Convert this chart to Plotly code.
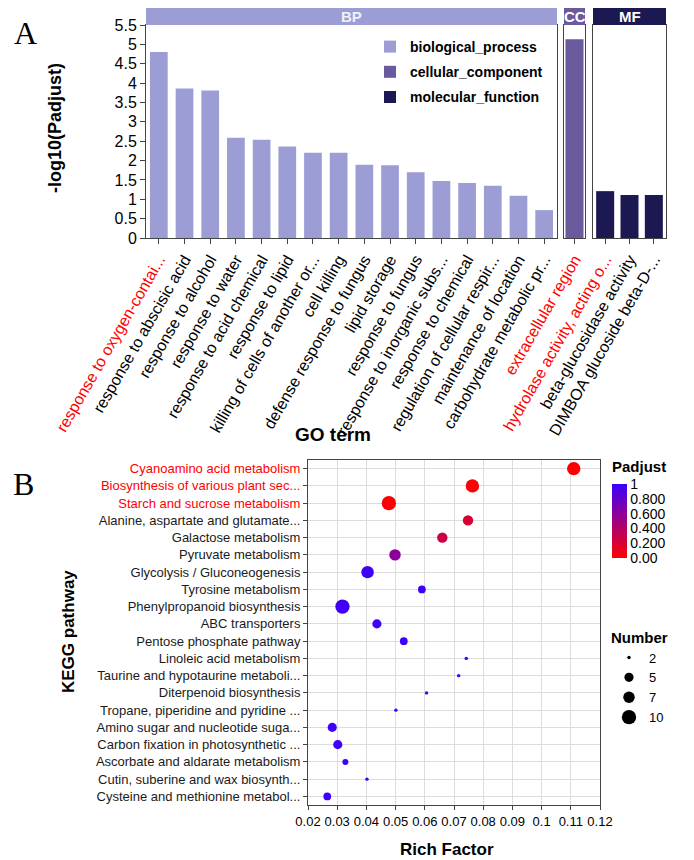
import plotly.graph_objects as go
import math

# page body has an 8px margin; the figure is sized to fit the 694x860 window
OFF = 8
W, H = 694 - OFF, 860 - OFF
FONT = "Liberation Sans, Arial, sans-serif"

# ---------------- GO data (panel A) ----------------
bp_terms = ["response to oxygen-contai...", "response to abscisic acid", "response to alcohol",
            "response to water", "response to acid chemical", "response to lipid",
            "killing of cells of another or...", "cell killing", "defense response to fungus",
            "lipid storage", "response to fungus", "response to inorganic subs...",
            "response to chemical", "regulation of cellular respir...", "maintenance of location",
            "carbohydrate metabolic pr..."]
bp_vals = [4.80, 3.86, 3.81, 2.59, 2.54, 2.36, 2.20, 2.20, 1.89, 1.88, 1.70, 1.47, 1.42, 1.35, 1.09, 0.72]
cc_terms = ["extracellular region"]
cc_vals = [5.13]
mf_terms = ["hydrolase activity, acting o...", "beta-glucosidase activity", "DIMBOA glucoside beta-D-..."]
mf_vals = [1.21, 1.11, 1.11]
red_terms = ["response to oxygen-contai...", "extracellular region", "hydrolase activity, acting o..."]
y_ticks_top = [0, 0.5, 1, 1.5, 2, 2.5, 3, 3.5, 4, 4.5, 5, 5.5]

# ---------------- KEGG data (panel B) ----------------
pathways = ["Cyanoamino acid metabolism", "Biosynthesis of various plant sec...",
            "Starch and sucrose metabolism", "Alanine, aspartate and glutamate...",
            "Galactose metabolism", "Pyruvate metabolism", "Glycolysis / Gluconeogenesis",
            "Tyrosine metabolism", "Phenylpropanoid biosynthesis", "ABC transporters",
            "Pentose phosphate pathway", "Linoleic acid metabolism",
            "Taurine and hypotaurine metaboli...", "Diterpenoid biosynthesis",
            "Tropane, piperidine and pyridine ...", "Amino sugar and nucleotide suga...",
            "Carbon fixation in photosynthetic ...", "Ascorbate and aldarate metabolism",
            "Cutin, suberine and wax biosynth...", "Cysteine and methionine metabol..."]
rich_factor = [0.111, 0.0763, 0.0477, 0.0748, 0.0660, 0.0498, 0.0404, 0.0590, 0.0318, 0.0436,
               0.0528, 0.0742, 0.0716, 0.0606, 0.0501, 0.0283, 0.0302, 0.0328, 0.0402, 0.0266]
numbers = [9, 9, 10, 6, 6, 7, 8, 4, 10, 5, 4, 2, 2, 2, 2, 5, 5, 3, 2, 4]
padjust = [0.00, 0.01, 0.02, 0.20, 0.27, 0.60, 0.97, 0.98, 0.97, 0.98,
           0.98, 0.99, 0.99, 0.99, 0.99, 0.98, 0.98, 0.99, 0.99, 0.98]
red_pathways = ["Cyanoamino acid metabolism", "Biosynthesis of various plant sec...",
                "Starch and sucrose metabolism"]
legend_numbers = [2, 5, 7, 10]
cbar_vals = [0, 0.2, 0.4, 0.6, 0.8, 1]
cbar_text = ["0.00", "0.200", "0.400", "0.600", "0.800", "1"]

C_BP, C_CC, C_MF = "#9d9dd6", "#6c5a9e", "#1b1852"


def px_x(p):
    return (p - OFF) / W


def px_y(p):
    return 1 - (p - OFF) / H


def diam(n):
    return math.sqrt(24 * n - 36)


def colored(lbl, reds):
    return f'<span style="color:#ff0000">{lbl}</span>' if lbl in reds else lbl


fig = go.Figure()

fig.add_trace(go.Bar(x=bp_terms, y=bp_vals, width=0.69, marker=dict(color=C_BP, line=dict(width=0)),
                     name="biological_process", xaxis="x", yaxis="y", legendgroup="bp"))
fig.add_trace(go.Bar(x=cc_terms, y=cc_vals, width=0.86, marker=dict(color=C_CC, line=dict(width=0)),
                     name="cellular_component", xaxis="x2", yaxis="y2", legendgroup="cc"))
fig.add_trace(go.Bar(x=mf_terms, y=mf_vals, width=0.74, marker=dict(color=C_MF, line=dict(width=0)),
                     name="molecular_function", xaxis="x3", yaxis="y3", legendgroup="mf"))

fig.add_trace(go.Scatter(
    x=rich_factor, y=pathways, mode="markers", xaxis="x4", yaxis="y4", showlegend=False,
    marker=dict(size=[diam(n) for n in numbers], color=padjust, cmin=0, cmax=1,
                colorscale=[[0, "#ff0000"], [0.5, "#a00080"], [1, "#3a00ff"]],
                line=dict(width=0), opacity=1,
                colorbar=dict(x=px_x(612), xanchor="left", y=px_y(484), yanchor="top",
                              lenmode="pixels", len=74, thicknessmode="pixels", thickness=15,
                              xpad=0, ypad=0, outlinewidth=0, ticks="",
                              tickvals=cbar_vals, ticktext=cbar_text,
                              tickfont=dict(family=FONT, size=14, color="black"))),
))

for n in legend_numbers:
    fig.add_trace(go.Scatter(x=[None], y=[None], mode="markers", xaxis="x4", yaxis="y4",
                             marker=dict(size=diam(n), color="black"), name=str(n),
                             legend="legend2", showlegend=True))

axis_line = dict(showline=True, linecolor="#444", linewidth=1, mirror=True, automargin=False)
top_dom = [px_y(238), px_y(25)]
tick_font_top = dict(family=FONT, size=16, color="black")

layout = dict(
    width=W, height=H, margin=dict(l=0, r=0, t=0, b=0, autoexpand=False),
    paper_bgcolor="white", plot_bgcolor="white", barmode="overlay",
    font=dict(family=FONT, color="black"),
    xaxis=dict(domain=[px_x(146), px_x(557)], anchor="y", type="category", range=[-0.5, 15.5],
               tickvals=bp_terms, ticktext=[colored(t, red_terms) for t in bp_terms],
               tickangle=-60, tickfont=tick_font_top, ticks="outside", ticklen=5, tickcolor="#444",
               showgrid=False, **axis_line),
    yaxis=dict(domain=top_dom, anchor="x", range=[0, 5.5], tickvals=y_ticks_top,
               tickfont=tick_font_top, ticks="outside", ticklen=5, tickcolor="#444",
               showgrid=False, zeroline=False, **axis_line),
    xaxis2=dict(domain=[px_x(564), px_x(585)], anchor="y2", type="category", range=[-0.5, 0.5],
                tickvals=cc_terms, ticktext=[colored(t, red_terms) for t in cc_terms],
                tickangle=-60, tickfont=tick_font_top, ticks="outside", ticklen=5, tickcolor="#444",
                showgrid=False, **axis_line),
    yaxis2=dict(domain=top_dom, anchor="x2", range=[0, 5.5], showticklabels=False, ticks="",
                showgrid=False, zeroline=False, **axis_line),
    xaxis3=dict(domain=[px_x(593), px_x(666)], anchor="y3", type="category", range=[-0.5, 2.5],
                tickvals=mf_terms, ticktext=[colored(t, red_terms) for t in mf_terms],
                tickangle=-60, tickfont=tick_font_top, ticks="outside", ticklen=5, tickcolor="#444",
                showgrid=False, **axis_line),
    yaxis3=dict(domain=top_dom, anchor="x3", range=[0, 5.5], showticklabels=False, ticks="",
                showgrid=False, zeroline=False, **axis_line),
    xaxis4=dict(domain=[px_x(308), px_x(600)], anchor="y4", range=[0.02, 0.12], dtick=0.01,
                tick0=0.02, tickangle=0, tickfont=dict(family=FONT, size=13, color="black"),
                ticks="outside", ticklen=4, tickcolor="#444", showgrid=True, gridcolor="#dddddd",
                gridwidth=1, zeroline=False, **axis_line),
    yaxis4=dict(domain=[px_y(805), px_y(460)], anchor="x4", type="category",
                categoryorder="array", categoryarray=pathways, range=[19.5, -0.5],
                tickvals=pathways, ticktext=[colored(p, red_pathways) for p in pathways],
                tickfont=dict(family=FONT, size=13, color="#1a1a1a"),
                ticks="outside", ticklen=4, tickcolor="#444", showgrid=True, gridcolor="#dddddd",
                gridwidth=1, zeroline=False, **axis_line),
    legend=dict(x=px_x(370), xanchor="left", y=px_y(31), yanchor="top", bgcolor="rgba(0,0,0,0)",
                font=dict(family=FONT, size=14, color="black", weight="bold"),
                tracegroupgap=4, itemwidth=30),
    legend2=dict(x=px_x(609), xanchor="left", y=px_y(623), yanchor="top", bgcolor="rgba(0,0,0,0)",
                 font=dict(family=FONT, size=13, color="black"),
                 title=dict(text="<b>Number</b>", font=dict(family=FONT, size=15, color="black")),
                 itemsizing="trace", itemwidth=30, tracegroupgap=0),
)
fig.update_layout(**layout)

# facet strips
strips = [("BP", 146, 557, C_BP, "#f0f0fa"), ("CC", 564, 585, C_CC, "white"), ("MF", 593, 666, C_MF, "white")]
shapes = []
annotations = []
for lbl, x0, x1, col, tcol in strips:
    shapes.append(dict(type="rect", xref="paper", yref="paper", x0=px_x(x0), x1=px_x(x1),
                       y0=px_y(25), y1=px_y(8), fillcolor=col, line=dict(width=0)))
    annotations.append(dict(text=f"<b>{lbl}</b>", xref="paper", yref="paper", x=px_x((x0 + x1) / 2),
                            y=px_y(16.5), showarrow=False, xanchor="center", yanchor="middle",
                            font=dict(family=FONT, size=15, color=tcol)))


def ann(text, x, y, size, angle=0, family=FONT):
    return dict(text=text, xref="paper", yref="paper", x=px_x(x), y=px_y(y), showarrow=False,
                xanchor="center", yanchor="middle", textangle=angle,
                font=dict(family=family, size=size, color="black"))


SERIF = "Liberation Serif, Times New Roman, serif"
annotations += [
    ann("A", 25, 33, 32, family=SERIF),
    ann("B", 23, 484, 32, family=SERIF),
    ann("<b>-log10(Padjust)</b>", 55, 128, 18, angle=-90),
    ann("<b>GO term</b>", 333, 434, 19),
    ann("<b>KEGG pathway</b>", 68, 632, 17, angle=-90),
    ann("<b>Rich Factor</b>", 447, 849, 17),
    dict(text="<b>Padjust</b>", xref="paper", yref="paper", x=px_x(610), y=px_y(467),
         showarrow=False, xanchor="left", yanchor="middle",
         font=dict(family=FONT, size=15, color="black")),
]
fig.update_layout(shapes=shapes, annotations=annotations)

fig.write_html("out.html")
